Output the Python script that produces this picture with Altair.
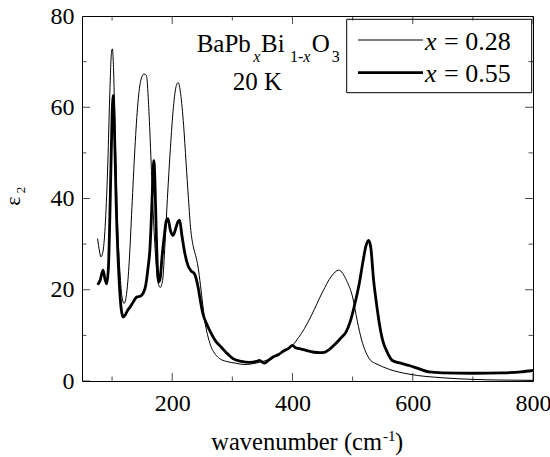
import altair as alt
import pandas as pd

# ---- data ----
thin_wn = [76, 79, 81.5, 85, 89, 93, 96, 99, 100.5, 102, 105, 109, 113, 117, 120, 124, 128, 133, 138,
           143, 148, 153, 157, 161, 164, 168, 172, 176, 180, 184, 188, 192, 197, 202, 207, 210, 214,
           219, 223, 227, 231, 235, 239, 243, 247, 251, 255, 260, 265, 272, 279, 290, 306, 320, 330,
           345, 356, 370, 385, 400, 410, 420, 432, 450, 465, 477, 490, 500, 508, 515, 522, 530, 539,
           560, 594, 650, 700, 750, 800]
thin_eps = [31.2, 28.5, 27.2, 28.5, 35, 48, 62, 72, 72.8, 70, 55, 35, 24, 18, 17, 19, 25, 38, 51,
            61, 66, 67.3, 67, 60, 51, 38, 28, 22, 20.5, 22, 30, 40, 51, 60, 64.8, 65.4, 63,
            56, 48, 40, 33, 29.5, 27.5, 25, 21, 16.5, 12.5, 9.5, 7.4, 5.8, 4.9, 4.3, 3.9, 3.6, 3.7,
            4.1, 4.5, 5.3, 6.5, 7.8, 9.5, 11.5, 14.5, 19.5, 23, 24.3, 22, 18.4, 13, 9, 6.3, 4.5, 3.8,
            2.6, 1.5, 0.7, 0.35, 0.2, 0.15]

bold_wn = [76, 80, 85, 88, 91, 94, 97, 100, 102, 104, 107, 111, 115, 118.5, 122, 126, 130, 136, 141,
           147, 152, 156, 160, 163, 166, 168, 169.5, 171, 173, 175, 177.7, 180, 183, 187, 190, 193,
           197, 201.4, 206, 210, 212.5, 216, 221, 226, 231, 237, 243, 247, 251, 258, 265, 272, 281.7,
           290, 301, 315, 328.6, 340, 345, 353.5, 360, 367, 377, 386.6, 393, 400, 405, 411.5, 420,
           436, 445, 453, 462, 472, 481, 489, 496, 503, 511, 517, 522, 526.5, 530, 535, 539, 544,
           550, 558, 566, 580, 594, 610, 627, 650, 700, 750, 780, 800]
bold_eps = [21.1, 22, 24.3, 22.5, 21.3, 25, 40, 58, 62.6, 55, 38, 24, 16, 14, 14.5, 15.5, 16.2, 17.5, 18.4,
            18.6, 19.3, 21, 25, 29, 38, 45, 48.3, 45, 35, 26, 21.7, 22.5, 27, 32, 35, 35.6,
            33, 31.9, 33.5, 35, 35.2, 32, 28, 25.4, 24.2, 23.5, 20.6, 17.5, 14.8, 12.3, 10.4, 8.8, 7.4,
            6.2, 4.9, 4.3, 4.1, 4.3, 4.5, 3.9, 4.5, 5.2, 5.8, 6.7, 7.1, 7.8, 7.3, 7.1, 6.8,
            6.3, 6.2, 6.3, 7, 8.2, 9.5, 10.7, 13, 16.5, 21.3, 26, 29.5, 30.8, 29.5, 22, 17.7, 13,
            8.9, 6.2, 4.5, 3.9, 3.4, 2.7, 2.0, 1.8, 1.7, 1.8, 2.0, 2.3]

series_names = ["x = 0.28", "x = 0.55"]
x_labels = [200, 400, 600, 800]
x_minor = [100, 300, 500, 700]
y_labels = [0, 20, 40, 60, 80]
y_minor = [10, 30, 50, 70]

W, H = 451, 365
FONT = "Liberation Serif"

df = pd.concat([
    pd.DataFrame({"wn": thin_wn, "eps": thin_eps, "s": series_names[0]}),
    pd.DataFrame({"wn": bold_wn, "eps": bold_eps, "s": series_names[1]}),
])

xs = alt.Scale(domain=[50, 800], nice=False, zero=False)
ys = alt.Scale(domain=[0, 80], nice=False)
x_axis = alt.Axis(values=x_labels, title=None, labelPadding=10, labelFlush=False, format="d",
                  labelFont=FONT, labelFontSize=24, labelColor="black", domain=False, ticks=False, grid=False)
y_axis = alt.Axis(values=y_labels, title=None, labelPadding=8, format="d",
                  labelFont=FONT, labelFontSize=24, labelColor="black", domain=False, ticks=False, grid=False)

lines = alt.Chart(df).mark_line(color="black", clip=True, interpolate="monotone").encode(
    x=alt.X("wn:Q", scale=xs, axis=x_axis),
    y=alt.Y("eps:Q", scale=ys, axis=y_axis),
    strokeWidth=alt.StrokeWidth("s:N", scale=alt.Scale(domain=series_names, range=[1.0, 2.8]), legend=None),
    detail="s:N",
)

xt = pd.DataFrame({"v": x_labels + x_minor, "len": [16] * len(x_labels) + [9] * len(x_minor)})
yt = pd.DataFrame({"v": y_labels + y_minor, "len": [16] * len(y_labels) + [9] * len(y_minor)})


def xticks(ypix):
    return alt.Chart(xt).mark_tick(clip=True, color="black", thickness=1, orient="vertical").encode(
        x=alt.X("v:Q", scale=xs, axis=x_axis), y=alt.value(ypix), size=alt.Size("len:Q", scale=None))


def yticks(xpix):
    return alt.Chart(yt).mark_tick(clip=True, color="black", thickness=1, orient="horizontal").encode(
        y=alt.Y("v:Q", scale=ys, axis=y_axis), x=alt.value(xpix), size=alt.Size("len:Q", scale=None))


def label(txt, x, y, size, align="left", italic=False, angle=0):
    return alt.Chart(alt.Data(values=[{"t": txt}])).mark_text(
        align=align, baseline="alphabetic", font=FONT, fontSize=size,
        fontStyle="italic" if italic else "normal", angle=angle, color="black"
    ).encode(x=alt.value(x), y=alt.value(y), text="t:N")


legend_box = alt.Chart(alt.Data(values=[{}])).mark_rect(
    fillOpacity=0, stroke="black", strokeWidth=1
).encode(x=alt.value(264.7), x2=alt.value(449.7), y=alt.value(3.3), y2=alt.value(76.7))

leg_thin = alt.Chart(alt.Data(values=[{}])).mark_rule(color="black", strokeWidth=1.0).encode(
    x=alt.value(276), x2=alt.value(341), y=alt.value(24))
leg_bold = alt.Chart(alt.Data(values=[{}])).mark_rule(color="black", strokeWidth=2.8).encode(
    x=alt.value(276), x2=alt.value(341), y=alt.value(56.7))

texts = [
    # legend labels
    label("x", 343, 34, 26, italic=True),
    label("= 0.28", 362, 34, 26),
    label("x", 343, 65.7, 26, italic=True),
    label("= 0.55", 362, 65.7, 26),
    # compound annotation
    label("BaPb", 114.7, 35.7, 25),
    label("x", 171.3, 45.7, 16, italic=True),
    label("Bi", 179, 35.7, 25),
    label("1-", 208, 45.7, 16),
    label("x", 221.3, 45.7, 16, italic=True),
    label("O", 229.7, 35.7, 25),
    label("3", 249.7, 45.7, 16),
    label("20 K", 175.5, 74, 25, align="center"),
    # x title
    label("wavenumber (cm", 300, 434, 24.5, align="right"),
    label("-1", 301, 425, 15),
    label(")", 313, 434, 24.5),
    # y title
    label("ε", -62, 185, 22, align="center", angle=270),
    label("2", -57, 174, 13, align="center", angle=270),
]

chart = alt.layer(
    lines, xticks(H), xticks(0), yticks(0), yticks(W),
    legend_box, leg_thin, leg_bold, *texts
).properties(
    width=W, height=H,
    autosize=alt.AutoSizeParams(type="none"),
    padding={"left": 82, "top": 16, "right": 17, "bottom": 76},
).configure_view(
    stroke="black", strokeWidth=1
).configure_axis(
    labelFont=FONT, labelFontSize=24, labelColor="black", domain=False, ticks=False, grid=False
).configure_text(
    font=FONT
)

chart.save("out.html", embed_options={"renderer": "svg", "actions": False})
